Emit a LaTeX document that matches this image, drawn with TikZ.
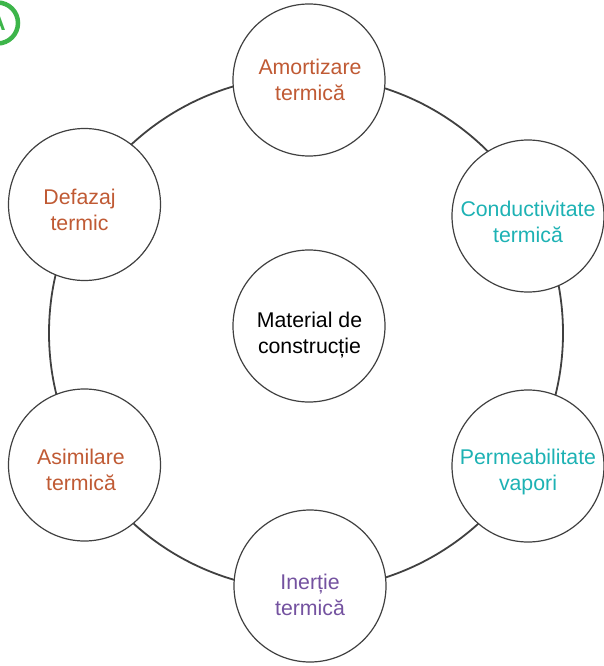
\documentclass[tikz,border=0pt]{standalone}
\usepackage{fontspec}
\setmainfont{Liberation Sans}
\usepackage{xcolor}
\usetikzlibrary{positioning}
\definecolor{linex}{HTML}{404040}
\definecolor{rustx}{HTML}{C05A34}
\definecolor{tealx}{HTML}{1DB2B4}
\definecolor{plumx}{HTML}{7452A0}
\definecolor{greenx}{HTML}{3DB54A}
\tikzset{
  ring/.style={draw=linex,line width=1.8pt},
  prop/.style={circle,draw=linex,line width=1.2pt,fill=white,minimum size=152pt,inner sep=0pt},
  txt/.style={align=center,inner sep=0pt,font=\fontsize{21.3}{26}\selectfont},
  badge/.style={circle,draw=greenx,line width=4.5pt,minimum size=41pt,inner sep=0pt,text=greenx,font=\fontsize{23}{23}\selectfont\bfseries}
}
\begin{document}
\begin{tikzpicture}[x=1pt,y=-1pt]
\useasboundingbox (0,0) rectangle (604,666);
\draw[ring] (306,333) circle[radius=257pt];
% circles
\node[prop] (mat) at (309,326) {};
\node[prop] (amort) at (309,80) {};
\node[prop] (cond) at (528,216) {};
\node[prop] (perm) at (528,466) {};
\node[prop] (inert) at (310,586) {};
\node[prop] (asim) at (84.5,465) {};
\node[prop] (defaz) at (84.5,204.5) {};
% labels
\node[txt] (mat-t) at (309.5,335) {Material de\\construcție};
\node[txt,text=rustx] (amort-t) at (310,80) {Amortizare\\termică};
\node[txt,text=tealx] (cond-t) at (528,221.5) {Conductivitate\\termică};
\node[txt,text=tealx] (perm-t) at (528,471.5) {Permeabilitate\\vapori};
\node[txt,text=plumx] (inert-t) at (310,594.5) {Inerție\\termică};
\node[txt,text=rustx] (asim-t) at (81,470) {Asimilare\\termică};
\node[txt,text=rustx] (defaz-t) at (79.5,210) {Defazaj\\termic};
% corner tag
\node[badge] (tag) at (-2.5,23) {A};
\end{tikzpicture}
\end{document}
